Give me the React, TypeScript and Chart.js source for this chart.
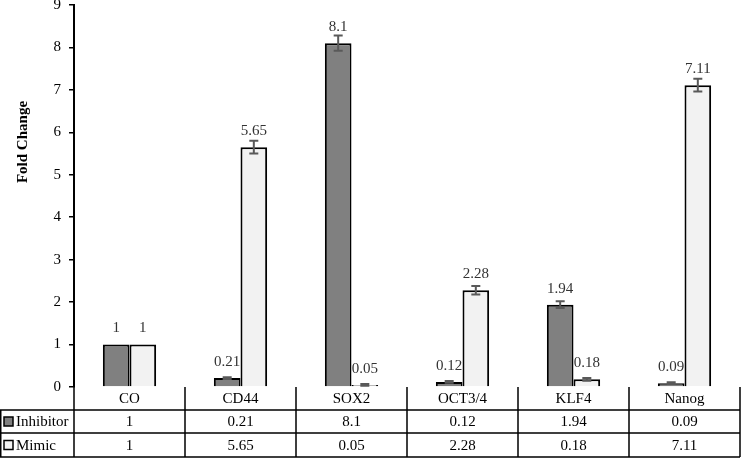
import React, { useEffect, useRef } from "react";
import { Chart, registerables } from "chart.js";

Chart.register(...registerables);

const categories = ["CO", "CD44", "SOX2", "OCT3/4", "KLF4", "Nanog"];
const inhibitor = [1, 0.21, 8.1, 0.12, 1.94, 0.09];
const mimic = [1, 5.65, 0.05, 2.28, 0.18, 7.11];
const inhibitorErr = [0, 0.02, 0.18, 0.02, 0.08, 0.02];
const mimicErr = [0, 0.15, 0.02, 0.1, 0.03, 0.15];
const yTicks = [0, 1, 2, 3, 4, 5, 6, 7, 8, 9];
const seriesNames = ["Inhibitor", "Mimic"];
const seriesColors = ["#808080", "#f2f2f2"];
const yTitle = "Fold Change";

const FONT = '"Liberation Serif", "Times New Roman", serif';

const overlay = {
  id: "overlay",
  afterDatasetsDraw(chart: any) {
    const ctx = chart.ctx;
    const y = chart.scales.y;
    const errs = [inhibitorErr, mimicErr];
    ctx.save();
    chart.data.datasets.forEach((ds: any, di: number) => {
      const meta = chart.getDatasetMeta(di);
      meta.data.forEach((bar: any, i: number) => {
        const v = ds.data[i];
        const e = errs[di][i];
        const x = bar.x;
        if (e > 0) {
          const yt = y.getPixelForValue(v + e);
          const yb = y.getPixelForValue(v - e);
          ctx.strokeStyle = "#595959";
          ctx.lineWidth = 2;
          ctx.beginPath();
          ctx.moveTo(x, yt);
          ctx.lineTo(x, yb);
          ctx.moveTo(x - 4.5, yt);
          ctx.lineTo(x + 4.5, yt);
          ctx.moveTo(x - 4.5, yb);
          ctx.lineTo(x + 4.5, yb);
          ctx.stroke();
        }
        ctx.fillStyle = "#333333";
        ctx.font = "15px " + FONT;
        ctx.textAlign = "center";
        ctx.textBaseline = "middle";
        ctx.fillText(String(v), x, y.getPixelForValue(v) - 16);
      });
    });
    ctx.restore();
  },
  afterDraw(chart: any) {
    const ctx = chart.ctx;
    const area = chart.chartArea;
    const xs = chart.scales.x;
    const n = categories.length;
    const left = area.left;
    const right = area.right;
    const w = (right - left) / n;
    const top = area.bottom;
    const r1 = top + 23;
    const r2 = r1 + 23;
    const bottom = chart.height - 1;
    ctx.save();
    ctx.strokeStyle = "#000";
    ctx.lineWidth = 1.5;
    ctx.beginPath();
    // horizontal lines
    ctx.moveTo(0, r1);
    ctx.lineTo(right, r1);
    ctx.moveTo(0, r2);
    ctx.lineTo(right, r2);
    ctx.moveTo(0, bottom);
    ctx.lineTo(right, bottom);
    // left border of legend cells
    ctx.moveTo(0.75, r1);
    ctx.lineTo(0.75, bottom);
    // vertical boundaries
    for (let i = 0; i <= n; i++) {
      const x = left + i * w;
      ctx.moveTo(x, top);
      ctx.lineTo(x, bottom);
    }
    ctx.stroke();

    ctx.fillStyle = "#000";
    ctx.font = "15px " + FONT;
    ctx.textAlign = "center";
    ctx.textBaseline = "middle";
    for (let i = 0; i < n; i++) {
      const cx = xs.getPixelForValue(i);
      ctx.fillText(categories[i], cx, (top + r1) / 2 + 1);
      ctx.fillText(String(inhibitor[i]), cx, (r1 + r2) / 2 + 1);
      ctx.fillText(String(mimic[i]), cx, (r2 + bottom) / 2 + 1);
    }
    // legend keys
    const rows = [(r1 + r2) / 2, (r2 + bottom) / 2];
    rows.forEach((cy, k) => {
      ctx.fillStyle = seriesColors[k];
      ctx.fillRect(4, cy - 4.5, 9, 9);
      ctx.strokeStyle = "#000";
      ctx.lineWidth = 1.5;
      ctx.strokeRect(4, cy - 4.5, 9, 9);
      ctx.fillStyle = "#000";
      ctx.textAlign = "left";
      ctx.fillText(seriesNames[k], 16, cy + 1);
    });

    // y title
    ctx.translate(23, 142);
    ctx.rotate(-Math.PI / 2);
    ctx.font = "bold 15px " + FONT;
    ctx.textAlign = "center";
    ctx.textBaseline = "middle";
    ctx.fillStyle = "#000";
    ctx.fillText(yTitle, 0, 0);
    ctx.restore();
  },
};

export default function App() {
  const ref = useRef<HTMLCanvasElement>(null);
  useEffect(() => {
    document.body.style.margin = "0";
    const chart = new Chart(ref.current!, {
      type: "bar",
      data: {
        labels: categories,
        datasets: [
          {
            label: seriesNames[0],
            data: inhibitor,
            backgroundColor: seriesColors[0],
            borderColor: "#000",
            borderWidth: 2,
            borderSkipped: "bottom",
            categoryPercentage: 0.48,
            barPercentage: 1,
          },
          {
            label: seriesNames[1],
            data: mimic,
            backgroundColor: seriesColors[1],
            borderColor: "#000",
            borderWidth: 2,
            borderSkipped: "bottom",
            categoryPercentage: 0.48,
            barPercentage: 1,
          },
        ],
      },
      options: {
        animation: false,
        responsive: false,
        maintainAspectRatio: false,
        layout: { padding: { top: 5, right: 1, bottom: 71, left: 0 } },
        plugins: { legend: { display: false }, tooltip: { enabled: false } },
        scales: {
          x: { display: false },
          y: {
            min: 0,
            max: 9,
            afterFit(scale: any) {
              scale.width = 74;
              scale.paddingTop = 0;
              scale.paddingBottom = 0;
            },
            afterBuildTicks(scale: any) {
              scale.ticks = yTicks.map((v) => ({ value: v }));
            },
            ticks: {
              color: "#000",
              font: { family: FONT, size: 15 },
              padding: 8,
            },
            grid: {
              drawOnChartArea: false,
              drawTicks: true,
              tickLength: 5,
              color: "#000",
              lineWidth: 1.5,
            },
            border: { color: "#000", width: 2 },
          },
        },
      },
      plugins: [overlay],
    });
    return () => chart.destroy();
  }, []);
  return (
    <div style={{ position: "absolute", left: 0, top: 0 }}>
      <canvas ref={ref} width={741} height={458} style={{ display: "block" }} />
    </div>
  );
}
